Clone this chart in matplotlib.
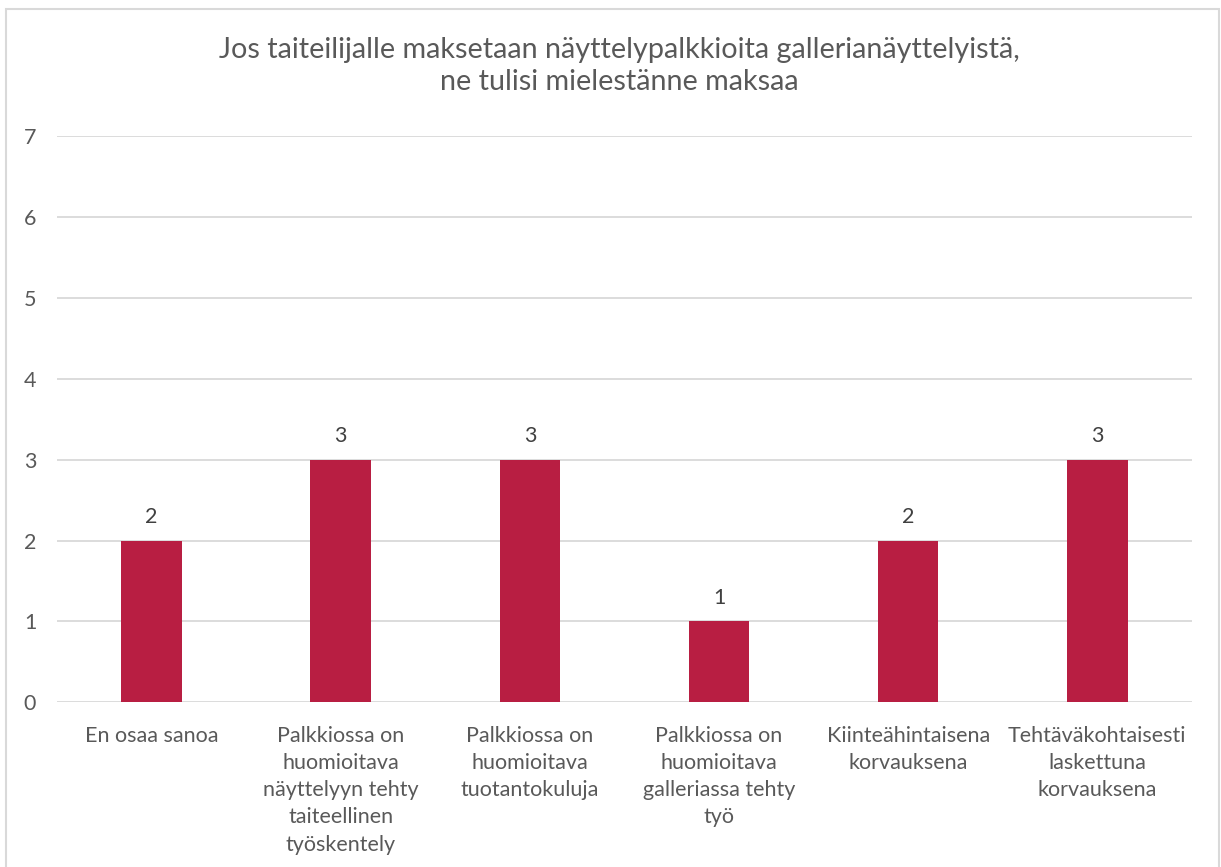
import matplotlib.pyplot as plt
from matplotlib.patches import Rectangle

categories = [
    "En osaa sanoa",
    "Palkkiossa on\nhuomioitava\nnäyttelyyn tehty\ntaiteellinen\ntyöskentely",
    "Palkkiossa on\nhuomioitava\ntuotantokuluja",
    "Palkkiossa on\nhuomioitava\ngalleriassa tehty\ntyö",
    "Kiinteähintaisena\nkorvauksena",
    "Tehtäväkohtaisesti\nlaskettuna\nkorvauksena",
]
values = [2, 3, 3, 1, 2, 3]
yticks = [0, 1, 2, 3, 4, 5, 6, 7]

title = "Jos taiteilijalle maksetaan näyttelypalkkioita gallerianäyttelyistä,\nne tulisi mielestänne maksaa"

plt.rcParams['font.family'] = ['Lato', 'DejaVu Sans']
text_color = "#595959"
bar_color = "#B81E42"

fig = plt.figure(figsize=(12.21, 8.67), dpi=100)
ax = fig.add_axes([0.0467, 0.19, 0.9295, 0.653])

x = range(len(categories))
ax.bar(x, values, width=0.32, color=bar_color, zorder=3)
for i, v in zip(x, values):
    ax.text(i, v + 0.17, str(v), ha="center", va="bottom", fontsize=15.5, color="#404040")

ax.set_xlim(-0.5, len(categories) - 0.5)
ax.set_ylim(0, 7)
ax.set_yticks(yticks)
ax.set_yticklabels([str(t) for t in yticks], fontsize=15.5, color=text_color)
ax.yaxis.grid(True, color="#d9d9d9", linewidth=1.3, zorder=0)
ax.tick_params(axis="y", length=0, pad=15)
ax.tick_params(axis="x", length=0, pad=17)
ax.set_xticks(list(x))
ax.set_xticklabels(categories, fontsize=15.5, color=text_color, linespacing=1.45)
for s in ax.spines.values():
    s.set_visible(False)

fig.text(0.507, 0.924, title, ha="center", va="center", fontsize=20.7,
         color=text_color, linespacing=1.3)

fig.patches.append(Rectangle((0.005, -0.01), 0.993, 1.0, transform=fig.transFigure,
                             fill=False, edgecolor="#d9d9d9", linewidth=1.5))

fig.savefig("out.png", dpi=100)
